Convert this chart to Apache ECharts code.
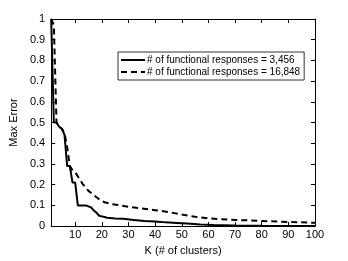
<!DOCTYPE html>
<html>
<head>
<meta charset="utf-8">
<script src="https://cdn.jsdelivr.net/npm/echarts@6/dist/echarts.min.js"></script>
<style>html,body{margin:0;padding:0;background:#fff;}#c{width:348px;height:261px;}</style>
</head>
<body>
<div id="c"></div>
<script>
var kSmall = [1,2,3,4,5,6,7,8,9,10,11,12,13,14,15,16,17,18,19,20,21,22,25,28,32,36,40,44,48,52,57,62,70,80,100];
var errSmall = [1.0,0.5,0.5,0.48,0.47,0.44,0.29,0.29,0.21,0.21,0.1,0.1,0.1,0.1,0.095,0.09,0.075,0.065,0.05,0.047,0.044,0.04,0.037,0.035,0.03,0.025,0.022,0.018,0.015,0.012,0.008,0.005,0.003,0.002,0.001];
var kLarge = [1,2,3,4,5,6,7,8,9,10,11,12,13,15,17,19,21,24,27,30,35,40,45,50,55,60,70,80,90,100];
var errLarge = [1.0,0.97,0.5,0.48,0.47,0.45,0.38,0.29,0.27,0.26,0.24,0.22,0.2,0.17,0.15,0.13,0.115,0.105,0.1,0.093,0.085,0.077,0.068,0.056,0.045,0.037,0.03,0.025,0.02,0.016];
var xTicks = [10,20,30,40,50,60,70,80,90,100];
var seriesNames = ['# of functional responses = 3,456', '# of functional responses = 16,848'];

function pairs(xs, ys){ return xs.map(function(x,i){ return [x, ys[i]]; }); }
var font = 'Liberation Sans, Arial, sans-serif';
var chart = echarts.init(document.getElementById('c'), null, {renderer:'canvas'});
var axisCommon = {
  axisLine:{show:true, onZero:false, lineStyle:{color:'#000', width:1}},
  splitLine:{show:false}
};
chart.setOption({
  animation:false,
  backgroundColor:'#fff',
  grid:{left:45, right:33, top:19, bottom:29, containLabel:false},
  legend:{
    orient:'vertical', left:118, top:52, itemWidth:24, itemHeight:10, itemGap:2,
    padding:[3,4,3,2], borderColor:'#000', borderWidth:0.8, backgroundColor:'#fff',
    itemStyle:{opacity:0},
    textStyle:{fontFamily:font, fontSize:10, color:'#000', padding:[0,0,0,-3]},
    data: seriesNames
  },
  xAxis:[
    Object.assign({type:'value', min:1, max:100, position:'bottom',
      name:'K (# of clusters)', nameLocation:'middle', nameGap:15,
      nameTextStyle:{fontFamily:font, fontSize:11, color:'#000'},
      axisTick:{show:true, inside:true, length:4, customValues:xTicks, lineStyle:{color:'#000'}},
      axisLabel:{show:true, customValues:xTicks, fontFamily:font, fontSize:11, color:'#000', margin:3}
    }, axisCommon),
    Object.assign({type:'value', min:1, max:100, position:'top',
      axisTick:{show:true, inside:true, length:4, customValues:xTicks, lineStyle:{color:'#000'}},
      axisLabel:{show:false}
    }, axisCommon)
  ],
  yAxis:[
    Object.assign({type:'value', min:0, max:1, interval:0.1, position:'left',
      name:'Max Error', nameLocation:'middle', nameGap:22, nameRotate:90,
      nameTextStyle:{fontFamily:font, fontSize:11, color:'#000'},
      axisTick:{show:true, inside:true, length:4, lineStyle:{color:'#000'}},
      axisLabel:{fontFamily:font, fontSize:11, color:'#000', margin:6,
        formatter:function(v){ return String(Math.round(v*10)/10); }}
    }, axisCommon),
    Object.assign({type:'value', min:0, max:1, interval:0.1, position:'right',
      axisTick:{show:true, inside:true, length:4, lineStyle:{color:'#000'}},
      axisLabel:{show:false}
    }, axisCommon)
  ],
  series:[
    {name:seriesNames[0], type:'line', xAxisIndex:0, yAxisIndex:0, symbol:'none',
     data:pairs(kSmall, errSmall), lineStyle:{color:'#000', width:2, type:'solid'}, itemStyle:{color:'#000'}},
    {name:seriesNames[1], type:'line', xAxisIndex:0, yAxisIndex:0, symbol:'none',
     data:pairs(kLarge, errLarge), lineStyle:{color:'#000', width:2, type:[6,4]}, itemStyle:{color:'#000'}}
  ]
});
</script>
</body>
</html>
